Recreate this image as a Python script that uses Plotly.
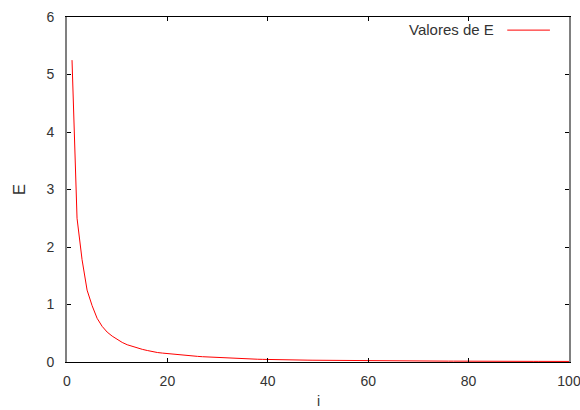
import plotly.graph_objects as go

i_vals = list(range(1, 101))
E_vals = [
    5.25, 2.50, 1.78, 1.25, 0.98, 0.76, 0.62, 0.52, 0.45, 0.39,
    0.34, 0.30, 0.27, 0.24, 0.22, 0.20, 0.18, 0.165, 0.155, 0.145,
    0.135, 0.125, 0.116, 0.109, 0.103, 0.098, 0.092, 0.087, 0.081, 0.076,
    0.072, 0.068, 0.063, 0.060, 0.057, 0.054, 0.051, 0.048, 0.046, 0.043,
    0.042, 0.040, 0.039, 0.038, 0.036, 0.035, 0.034, 0.032, 0.031, 0.030,
    0.029, 0.027, 0.026, 0.025, 0.024, 0.024, 0.023, 0.022, 0.021, 0.021,
    0.020, 0.020, 0.020, 0.019, 0.019, 0.018, 0.018, 0.018, 0.017, 0.017,
    0.016, 0.016, 0.016, 0.015, 0.015, 0.015, 0.015, 0.014, 0.014, 0.014,
    0.014, 0.014, 0.013, 0.013, 0.013, 0.013, 0.013, 0.012, 0.012, 0.012,
    0.012, 0.012, 0.011, 0.011, 0.011, 0.011, 0.011, 0.010, 0.010, 0.010,
]
x_ticks = [0, 20, 40, 60, 80, 100]
y_ticks = [0, 1, 2, 3, 4, 5, 6]
series_name = "Valores de E"
x_title = "i"
y_title = "E"

FONT = "Liberation Sans, Arial, sans-serif"
TXT = "#333333"

fig = go.Figure()
fig.add_trace(go.Scatter(
    x=i_vals, y=E_vals, mode="lines", name=series_name,
    line=dict(color="#ff0000", width=1), showlegend=False,
))

fig.update_layout(
    width=580, height=410,
    margin=dict(l=67, r=11, t=17, b=48),
    paper_bgcolor="white", plot_bgcolor="white",
    font=dict(family=FONT, size=14, color=TXT),
    xaxis=dict(
        range=[0, 100], tickvals=x_ticks, ticks="inside", ticklen=4,
        tickcolor="black", showgrid=False, zeroline=False, automargin=False,
        showline=True, linecolor="black", linewidth=1, mirror="allticks",
        ticklabelstandoff=6, ticklabeloverflow="allow",
    ),
    yaxis=dict(
        range=[0, 6], tickvals=y_ticks, ticks="inside", ticklen=4,
        tickcolor="black", showgrid=False, zeroline=False, automargin=False,
        showline=True, linecolor="#808080", linewidth=2, mirror="allticks",
        title=dict(text=y_title, standoff=16), ticklabelstandoff=8,
        ticklabeloverflow="allow",
    ),
)

# x-axis title placed as in the reference (near the bottom edge)
fig.add_annotation(
    xref="paper", yref="paper", x=0.5, y=-0.112, xanchor="center", yanchor="middle",
    text=x_title, showarrow=False, font=dict(family=FONT, size=14, color=TXT),
)

# key (text followed by a line sample, gnuplot style)
fig.add_annotation(
    xref="paper", yref="paper", x=0.855, y=0.964, xanchor="right", yanchor="middle",
    text=series_name, showarrow=False, font=dict(family=FONT, size=15, color=TXT),
)
fig.add_shape(
    type="line", xref="paper", yref="paper", x0=0.877, x1=0.962, y0=0.962, y1=0.962,
    line=dict(color="#ff0000", width=1),
)

fig.write_html(
    "out.html",
    config={"displayModeBar": False},
    post_script="document.body.style.margin='0';document.body.style.overflow='hidden';",
)
